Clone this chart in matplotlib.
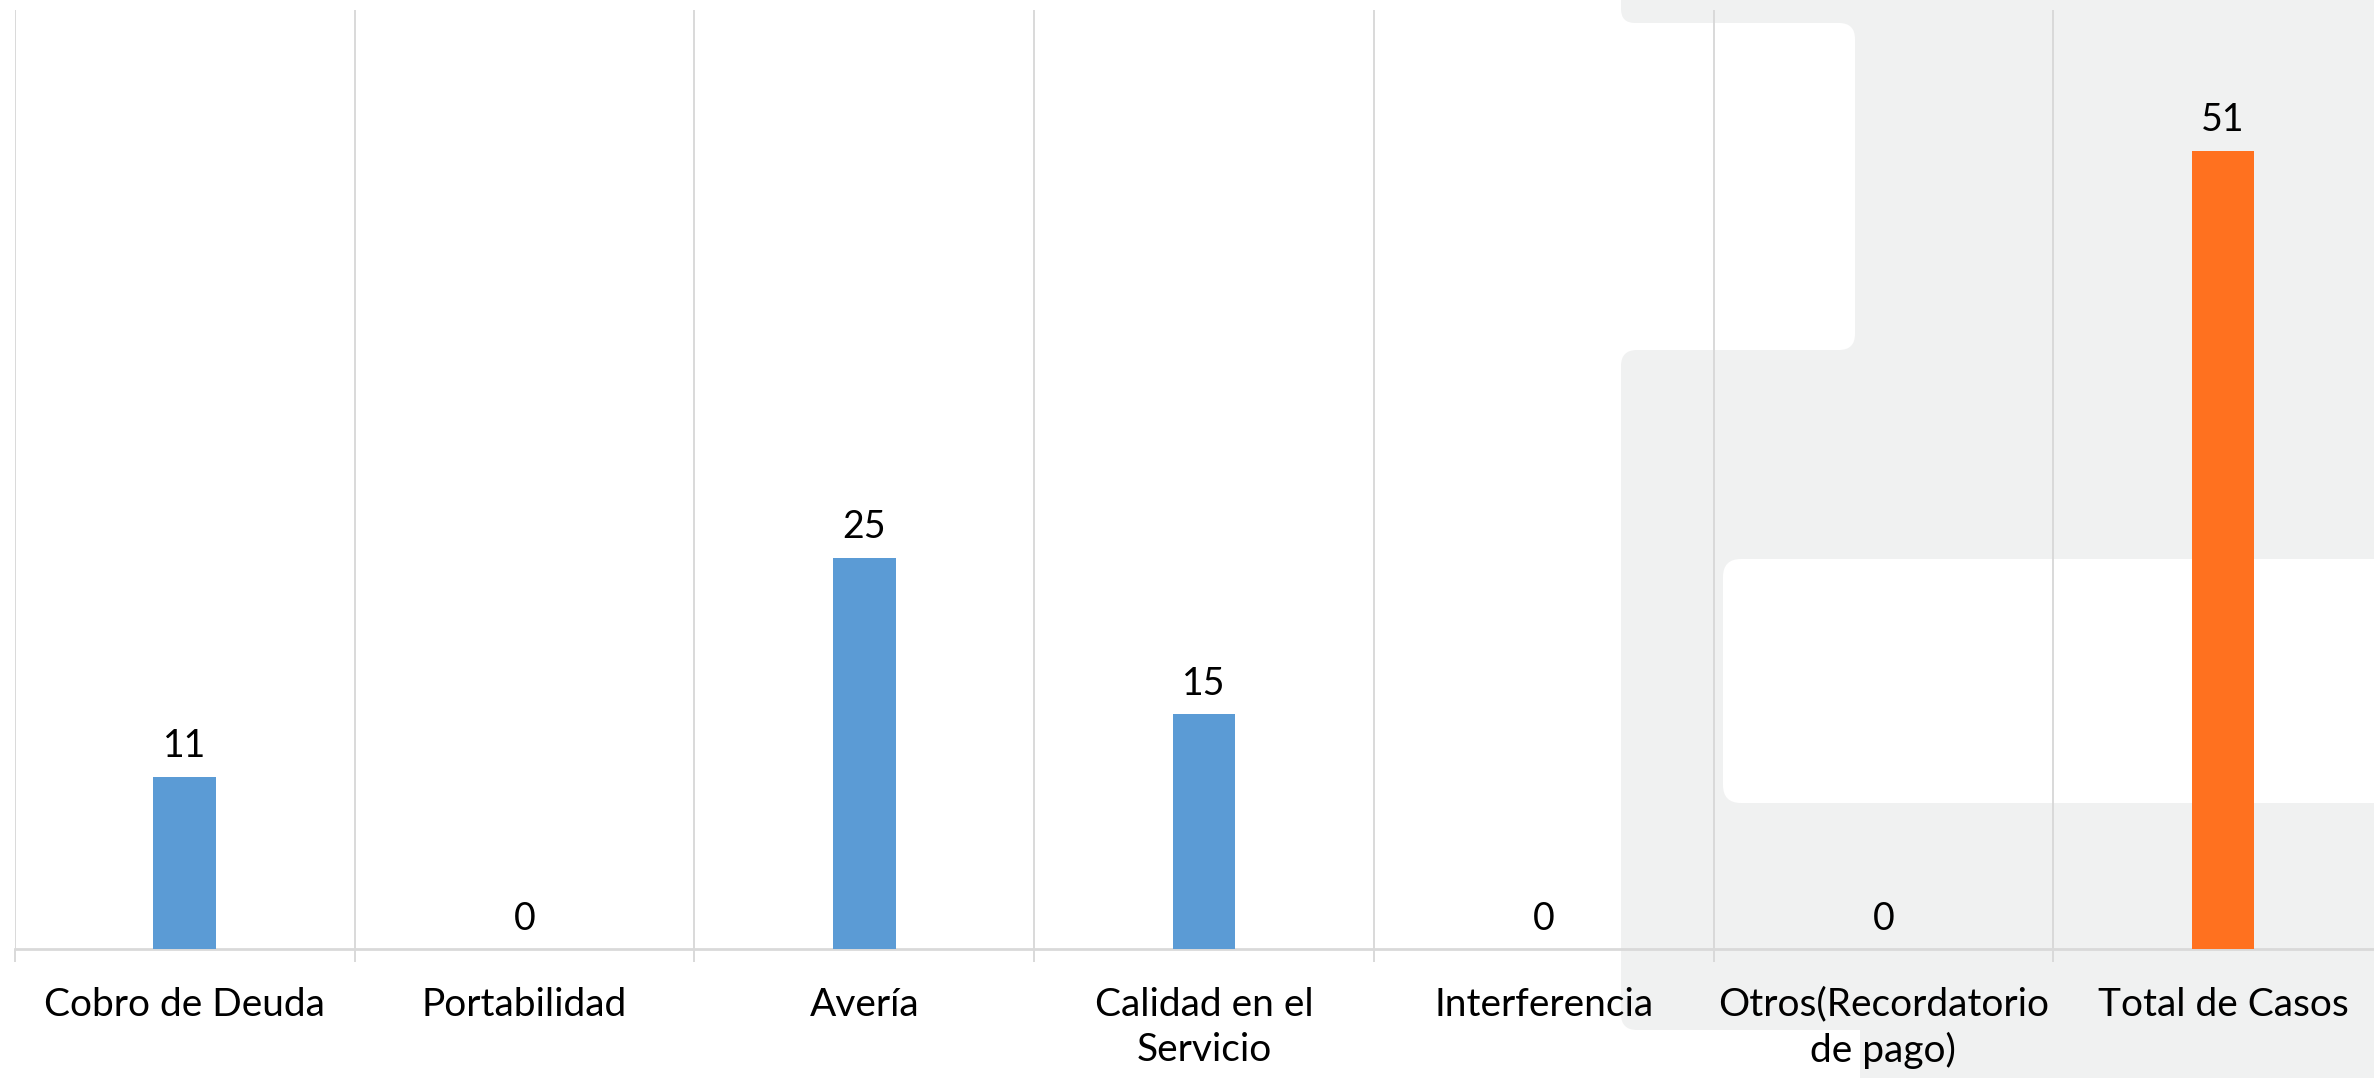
import matplotlib
matplotlib.use("Agg")
import matplotlib.pyplot as plt
from matplotlib.patches import FancyBboxPatch, Rectangle
import numpy as np

categories = ["Cobro de Deuda", "Portabilidad", "Avería", "Calidad en el\nServicio",
              "Interferencia", "Otros(Recordatorio\nde pago)", "Total de Casos"]
values = [11, 0, 25, 15, 0, 0, 51]
colors = ["#5B9BD5"] * 6 + ["#FF711F"]

W, H = 2374, 1078
DPI = 100
plt.rcParams['font.family'] = ['Lato', 'DejaVu Sans']

fig = plt.figure(figsize=(W / DPI, H / DPI), dpi=DPI)
fig.patch.set_facecolor("white")

GRAY = "#F0F1F1"
def px(x0, ytop, x1, ybot):
    # convert top-left based pixel box to display coords (origin bottom-left)
    return x0, H - ybot, x1 - x0, ybot - ytop

# background decorative shape (figure pixel coords)
# top strip
x, y, w, h = px(1621, -60, 2600, 23)
fig.patches.append(FancyBboxPatch((x, y), w, h, boxstyle="round,pad=0,rounding_size=14",
                                  transform=None, facecolor=GRAY, edgecolor="none", zorder=-5))
# right column
x, y, w, h = px(1840, -60, 2600, 400)
fig.patches.append(Rectangle((x, y), w, h, transform=None, facecolor=GRAY, edgecolor="none", zorder=-6))
# main body
x, y, w, h = px(1621, 350, 2600, 1030)
fig.patches.append(FancyBboxPatch((x, y), w, h, boxstyle="round,pad=0,rounding_size=16",
                                  transform=None, facecolor=GRAY, edgecolor="none", zorder=-5))
# bottom-right continuation
x, y, w, h = px(1860, 980, 2600, 1200)
fig.patches.append(Rectangle((x, y), w, h, transform=None, facecolor=GRAY, edgecolor="none", zorder=-5))
# white notch (top)
x, y, w, h = px(1600, 23, 1855, 350)
fig.patches.append(FancyBboxPatch((x, y), w, h, boxstyle="round,pad=0,rounding_size=16",
                                  transform=None, facecolor="white", edgecolor="none", zorder=-4))
# white window (lower)
x, y, w, h = px(1723, 559, 2700, 803)
fig.patches.append(FancyBboxPatch((x, y), w, h, boxstyle="round,pad=0,rounding_size=18",
                                  transform=None, facecolor="white", edgecolor="none", zorder=-4))

left = 15 / W
right_px = 15 + 7 * 339.7
bottom = 1 - 949 / H
top = 1 - 10 / H
ax = fig.add_axes([left, bottom, (right_px - 15) / W, top - bottom])
ax.set_facecolor("none")
ax.set_zorder(5)

xpos = np.arange(len(categories))
bars = ax.bar(xpos, values, width=0.185, color=colors, zorder=3)

ax.set_xlim(-0.5, len(categories) - 0.5)
ax.set_ylim(0, 60)

for xi, v in zip(xpos, values):
    ax.annotate(str(v), (xi, v), xytext=(0, 9), textcoords="offset points",
                ha="center", va="bottom", fontsize=27, color="black")

ax.set_xticks(xpos)
ax.set_xticklabels(categories, fontsize=28, linespacing=1.32)
ax.set_xticks(np.arange(-0.5, len(categories), 1.0), minor=True)
ax.tick_params(axis="x", which="major", length=0, pad=27, colors="black")
ax.tick_params(axis="x", which="minor", length=9.5, width=1.4, color="#D9D9D9", direction="out")
ax.grid(axis="x", which="minor", color="#D9D9D9", linewidth=1.4, zorder=1)
ax.set_yticks([])

for s in ["top", "right", "left"]:
    ax.spines[s].set_visible(False)
ax.spines["bottom"].set_color("#D9D9D9")
ax.spines["bottom"].set_linewidth(2.0)
ax.spines["bottom"].set_zorder(2)

fig.savefig("out.png", dpi=DPI, facecolor="white")
